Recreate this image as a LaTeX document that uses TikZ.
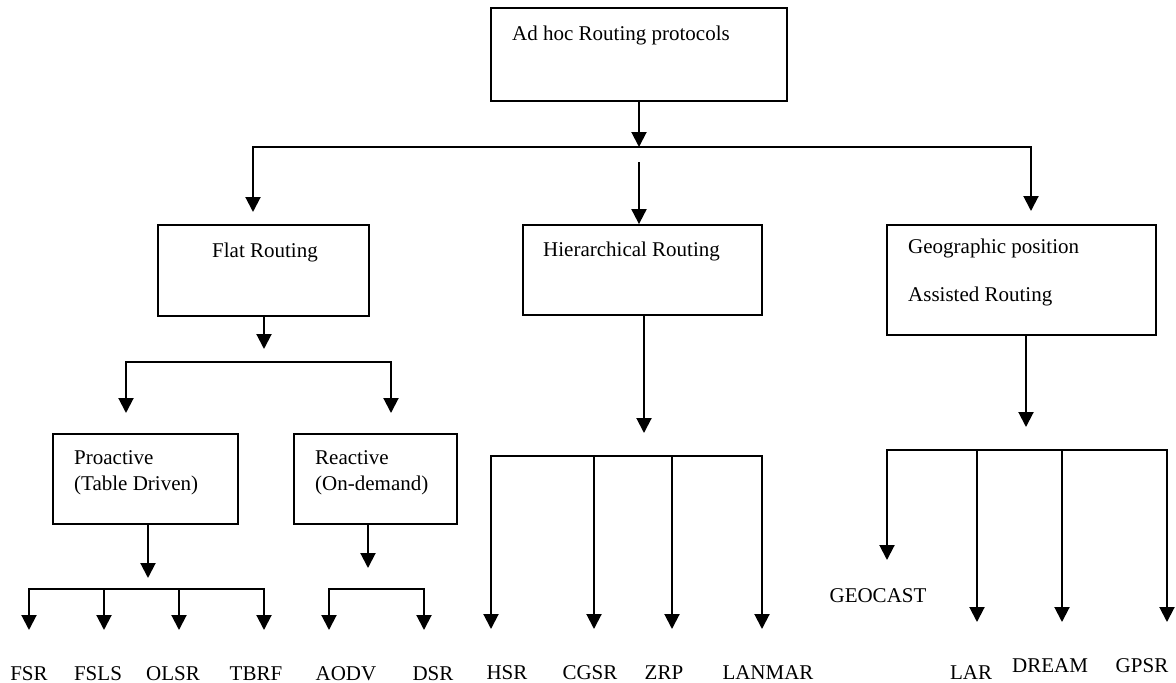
\documentclass[tikz,border=0pt]{standalone}
\usepackage{fontspec}
\setmainfont{Liberation Serif}
\usetikzlibrary{arrows.meta}
\begin{document}
\begin{tikzpicture}[x=1pt,y=-1pt,
  box/.style={draw,line width=1.8pt,inner sep=0pt},
  lbl/.style={font=\fontsize{21}{26}\selectfont,inner sep=0pt},
  wire/.style={line width=2pt,line cap=rect},
  conn/.style={line width=2pt,-{Triangle[width=15pt,length=15pt]}}]
\useasboundingbox (0,0) rectangle (1176,683);

% ---------- root ----------
\node[box,minimum width=296pt,minimum height=93pt] (root) at (639,54.5) {};
\node[lbl,anchor=base west] (rootT) at (512,40) {Ad hoc Routing protocols};

% ---------- second level ----------
\node[box,minimum width=211pt,minimum height=91pt] (flat) at (263.5,270.5) {};
\node[lbl,anchor=base] (flatT) at (265,257) {Flat Routing};

\node[box,minimum width=239pt,minimum height=90pt] (hier) at (642.5,270) {};
\node[lbl,anchor=base west] (hierT) at (543,256) {Hierarchical Routing};

\node[box,minimum width=269pt,minimum height=110pt] (geo) at (1021.5,280) {};
\node[lbl,anchor=base west] (geoT1) at (908,253) {Geographic position};
\node[lbl,anchor=base west] (geoT2) at (908,301) {Assisted Routing};

% ---------- flat routing children ----------
\node[box,minimum width=185pt,minimum height=90pt] (pro) at (145.5,479) {};
\node[lbl,anchor=base west] (proT1) at (74,464) {Proactive};
\node[lbl,anchor=base west] (proT2) at (74,490) {(Table Driven)};

\node[box,minimum width=163pt,minimum height=90pt] (rea) at (375.5,479) {};
\node[lbl,anchor=base west] (reaT1) at (315,464) {Reactive};
\node[lbl,anchor=base west] (reaT2) at (315,490) {(On-demand)};

% ---------- leaf protocol names ----------
\node[lbl,anchor=base] (fsr)  at (29,680)  {FSR};
\node[lbl,anchor=base] (fsls) at (98,680)  {FSLS};
\node[lbl,anchor=base] (olsr) at (173,680) {OLSR};
\node[lbl,anchor=base] (tbrf) at (256,680) {TBRF};
\node[lbl,anchor=base] (aodv) at (346,680) {AODV};
\node[lbl,anchor=base] (dsr)  at (433,680) {DSR};

\node[lbl,anchor=base] (hsr)    at (507,679) {HSR};
\node[lbl,anchor=base] (cgsr)   at (590,679) {CGSR};
\node[lbl,anchor=base] (zrp)    at (664,679) {ZRP};
\node[lbl,anchor=base] (lanmar) at (768,679) {LANMAR};

\node[lbl,anchor=base] (geocast) at (878,602) {GEOCAST};
\node[lbl,anchor=base] (lar)     at (971,679) {LAR};
\node[lbl,anchor=base] (dream)   at (1050,672) {DREAM};
\node[lbl,anchor=base] (gpsr)    at (1142,672) {GPSR};

% ---------- junction points ----------
\coordinate (rootJ) at (639,147);
\coordinate (topL) at (253,147);
\coordinate (topR) at (1031,147);
\coordinate (flatIn) at (253,212);
\coordinate (hierStart) at (639,162);
\coordinate (geoIn) at (1031,211);

\coordinate (flatJ) at (264,349);
\coordinate (flatL) at (126,362);
\coordinate (flatR) at (391,362);
\coordinate (proIn) at (126,413);
\coordinate (reaIn) at (391,413);

\coordinate (proJ) at (148,578);
\coordinate (reaJ) at (368,568);
\coordinate (hierJ) at (644,433);
\coordinate (geoJ) at (1026,427);

% ---------- connectors: root level ----------
\draw[conn] (root.south -| rootJ) -- (rootJ);
\draw[wire] (topL) -- (topR);
\draw[conn] (topL) -- (flatIn);
\draw[conn] (hierStart) -- (hier.north -| hierStart);
\draw[conn] (topR) -- (geoIn);

% ---------- flat routing ----------
\draw[conn] (flat.south -| flatJ) -- (flatJ);
\draw[wire] (flatL) -- (flatR);
\draw[conn] (flatL) -- (proIn);
\draw[conn] (flatR) -- (reaIn);

% ---------- proactive ----------
\draw[conn] (pro.south -| proJ) -- (proJ);
\draw[wire] (29,589) -- (264,589);
\foreach \x/\n in {29/a,104/b,179/c,264/d}{
  \coordinate (pro\n) at (\x,589);
  \draw[conn] (pro\n) -- (\x,630);
}

% ---------- reactive ----------
\draw[conn] (rea.south -| reaJ) -- (reaJ);
\draw[wire] (329,589) -- (424,589);
\foreach \x/\n in {329/a,424/b}{
  \coordinate (rea\n) at (\x,589);
  \draw[conn] (rea\n) -- (\x,630);
}

% ---------- hierarchical ----------
\draw[conn] (hier.south -| hierJ) -- (hierJ);
\draw[wire] (491,456) -- (762,456);
\foreach \x/\n in {491/a,594/b,672/c,762/d}{
  \coordinate (hi\n) at (\x,456);
  \draw[conn] (hi\n) -- (\x,629);
}

% ---------- geographic ----------
\draw[conn] (geo.south -| geoJ) -- (geoJ);
\draw[wire] (887,450) -- (1167,450);
\coordinate (geoA) at (887,450);
\draw[conn] (geoA) -- (887,560);
\foreach \x/\n in {977/b,1062/c,1167/d}{
  \coordinate (geo\n) at (\x,450);
  \draw[conn] (geo\n) -- (\x,622);
}
\end{tikzpicture}
\end{document}
